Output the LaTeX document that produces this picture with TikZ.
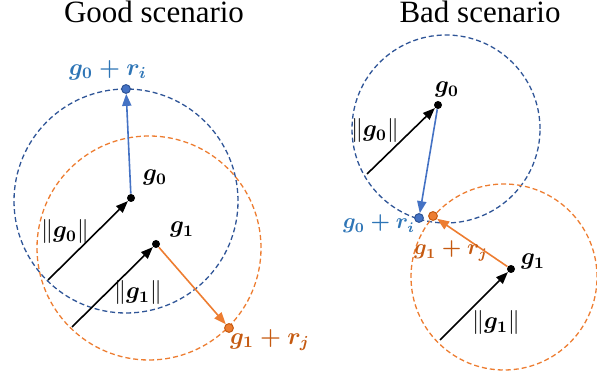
\documentclass[tikz,border=0pt]{standalone}
\usepackage{amsmath}
\usepackage{fontspec}
\setmainfont{Liberation Serif}
\usetikzlibrary{arrows.meta,positioning}
\definecolor{ringblue}{RGB}{47,85,151}
\definecolor{arrowblue}{RGB}{68,114,196}
\definecolor{textblue}{RGB}{46,117,182}
\definecolor{ringorange}{RGB}{237,125,49}
\definecolor{textorange}{RGB}{197,90,17}

\begin{document}
\begin{tikzpicture}[x=0.5pt,y=0.5pt]
  \tikzstyle{ring}=[dash pattern=on 2.5pt off 1.5pt,line width=0.65pt]
  \tikzstyle{dot}=[circle,fill=black,inner sep=0pt,minimum size=4pt]
  \tikzstyle{tipdot}=[circle,inner sep=0pt,minimum size=4.4pt,line width=0.5pt]
  \tikzstyle{vec}=[-{Triangle[length=6pt,width=4.6pt]},line width=0.8pt]
  \tikzstyle{lbl}=[font=\fontsize{11.5}{13}\selectfont,inner sep=0pt]
  \tikzstyle{biglbl}=[font=\fontsize{12}{14}\selectfont,inner sep=0pt]
  \tikzstyle{smalllbl}=[font=\fontsize{10.5}{12}\selectfont,inner sep=0pt]
  \tikzstyle{title}=[font=\fontsize{15.5}{18}\selectfont,anchor=base]
  \useasboundingbox (0,0) rectangle (597,378);

  % good scenario
  \node[title] (goodtitle) at (154,355) {Good scenario};
  \draw[ring,ringblue] (126,177) circle[radius=112];
  \draw[ring,ringorange] (149,130) circle[radius=112];
  \node[dot] (g0) at (131,180) {};
  \node[dot] (g1) at (156,134) {};
  \node[tipdot,draw=ringblue,fill=arrowblue] (r0) at (126,289) {};
  \node[tipdot,draw=textorange,fill=ringorange] (r1) at (229,50) {};
  \coordinate (n0) at (48,98);
  \coordinate (n1) at (72,51);
  \draw[vec] (n0) -- (g0);
  \draw[vec] (n1) -- (g1);
  \draw[vec,arrowblue] (g0) -- (r0);
  \draw[vec,ringorange] (g1) -- (r1);
  \node[biglbl,text=textblue] (r0lbl) at (108,308) {$\boldsymbol{g_0+r_i}$};
  \node[lbl] (g0lbl) at (155,200) {$\boldsymbol{g_0}$};
  \node[lbl] (n0lbl) at (65,146) {$\|\boldsymbol{g_0}\|$};
  \node[lbl] (g1lbl) at (182,148) {$\boldsymbol{g_1}$};
  \node[lbl] (n1lbl) at (138,85) {$\|\boldsymbol{g_1}\|$};
  \node[biglbl,text=textorange] (r1lbl) at (270,38) {$\boldsymbol{g_1+r_j}$};

  % bad scenario
  \node[title] (badtitle) at (480,355) {Bad scenario};
  \draw[ring,ringblue] (446,249) circle[radius=94];
  \draw[ring,ringorange] (504,101) circle[radius=93];
  \node[dot] (b0) at (438,273) {};
  \node[dot] (b1) at (511,109) {};
  \node[tipdot,draw=ringblue,fill=arrowblue] (s0) at (419,160) {};
  \node[tipdot,draw=textorange,fill=ringorange] (s1) at (433,162) {};
  \coordinate (m0) at (367,204);
  \coordinate (m1) at (440,38);
  \draw[vec] (m0) -- (b0);
  \draw[vec] (m1) -- (b1);
  \draw[vec,arrowblue] (b0) -- (s0);
  \draw[vec,ringorange] (b1) -- (s1);
  \node[lbl] (b0lbl) at (447,288) {$\boldsymbol{g_0}$};
  \node[lbl] (m0lbl) at (375,247) {$\|\boldsymbol{g_0}\|$};
  \node[smalllbl,text=textblue] (s0lbl) at (379,154) {$\boldsymbol{g_0+r_i}$};
  \node[smalllbl,text=textorange] (s1lbl) at (451,127) {$\boldsymbol{g_1+r_j}$};
  \node[lbl] (b1lbl) at (533,116) {$\boldsymbol{g_1}$};
  \node[lbl] (m1lbl) at (496,55) {$\|\boldsymbol{g_1}\|$};
\end{tikzpicture}
\end{document}
